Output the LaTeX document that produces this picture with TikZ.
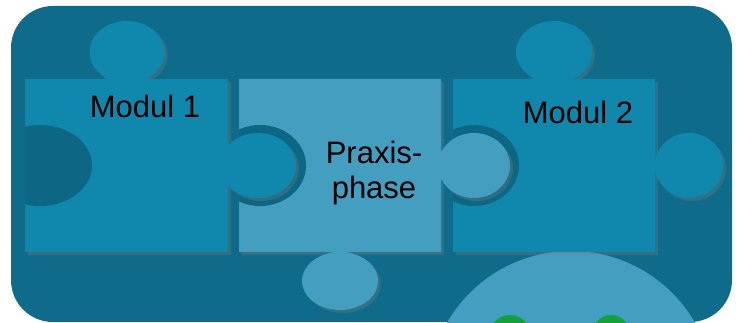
\documentclass[tikz,border=0pt]{standalone}
\usepackage{fontspec}
\setmainfont{Liberation Sans}
\usetikzlibrary{shadows}

\definecolor{bgteal}{RGB}{14,107,137}
\definecolor{modulblue}{RGB}{16,136,174}
\definecolor{praxisblue}{RGB}{67,158,192}
\definecolor{leafgreen}{RGB}{20,160,58}

\begin{document}
\begin{tikzpicture}[x=1pt, y=-1pt,
    piece/.style={fill=modulblue, drop shadow={shadow xshift=3pt, shadow yshift=-3pt, opacity=0.3}},
    praxispiece/.style={piece, fill=praxisblue},
    hole/.style={fill=bgteal!96!black},
    piecetext/.style={font=\fontsize{31}{35}\selectfont, text=black, inner sep=0pt, anchor=base}
  ]
  % picture frame
  \useasboundingbox (0,0) rectangle (743,323);
  \clip (0,0) rectangle (743,323);
  \fill[bgteal, rounded corners=42pt] (11,6) rectangle (732,322);

  % big circle at the bottom with the green shapes
  \fill[praxisblue] (571,394) circle (143);
  \foreach \gx/\grx in {510/21, 611/20} {
    \fill[leafgreen] (\gx,337) ellipse [x radius=\grx, y radius=22];
  }

  % Modul 2 - square, top knob, right knob, hole on the left
  \fill[piece] (453,252) rectangle (655,79)
    (554,52) ellipse [x radius=38, y radius=31]
    (689,165.5) ellipse [x radius=34, y radius=32.5];
  \begin{scope}
    \clip (453,79) rectangle (655,252);
    \fill[hole] (474,165.5) ellipse [x radius=45, y radius=40.5];
  \end{scope}

  % Praxisphase - knob to the right and below, hole on the left
  \fill[praxispiece] (239,252) rectangle (441,79)
    (474,165.5) ellipse [x radius=36, y radius=32.5]
    (340,281) ellipse [x radius=38, y radius=29];
  \begin{scope}
    \clip (239,79) rectangle (441,252);
    \fill[hole] (260,165.5) ellipse [x radius=46, y radius=40.5];
  \end{scope}

  % Modul 1 - top knob, right knob, hole on the left
  \fill[piece] (25,252) rectangle (228,79)
    (127,52) ellipse [x radius=37.5, y radius=31]
    (258,165.5) ellipse [x radius=38, y radius=32.5];
  \begin{scope}
    \clip (25,79) rectangle (228,252);
    \fill[hole] (40,165.5) ellipse [x radius=52, y radius=40.5];
  \end{scope}

  % texts
  \node[piecetext] (modul1) at (145,118) {Modul 1};
  \node[piecetext] (modul2) at (578,124) {Modul 2};
  \node[piecetext, align=center] (praxis) at (374,198) {Praxis-\\phase};
\end{tikzpicture}
\end{document}
